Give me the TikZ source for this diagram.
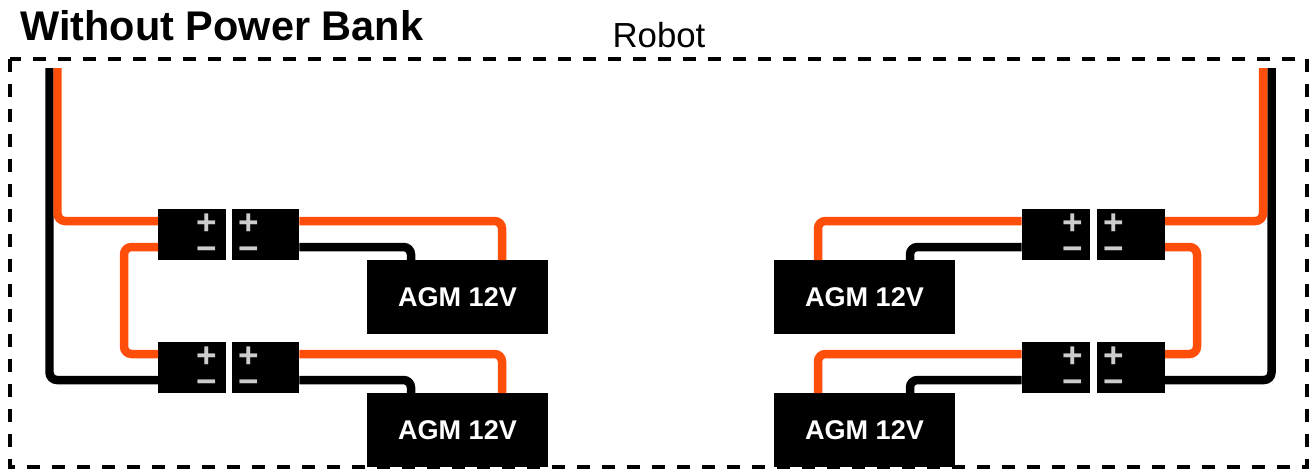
\documentclass[tikz,border=0pt]{standalone}
\usepackage{fontspec}
\setmainfont{Liberation Sans}

\definecolor{wireorange}{HTML}{FF4D0A}
\definecolor{signgray}{HTML}{CCCCCC}

\tikzset{
    wire/.style = {line width = .17cm, rounded corners = .15cm},
    poswire/.style = {wire, draw = wireorange},
    negwire/.style = {wire, draw = black},
    conn/.style = {fill = black, inner sep = 0pt, outer sep = 0pt,
        minimum width = 1.36cm, minimum height = 1.02cm},
    battery/.style = {fill = black, text = white, inner sep = 0pt, outer sep = 0pt,
        minimum width = 3.62cm, minimum height = 1.48cm,
        font = \fontsize{15.4pt}{17pt}\selectfont\bfseries},
    sign/.style = {text = signgray, inner sep = 0pt, outer sep = 0pt,
        text height = 15pt, text depth = 0pt,
        font = \fontsize{20pt}{22pt}\selectfont\bfseries}
}

\begin{document}
\begin{tikzpicture}[x = .02cm, y = -.02cm]

    \useasboundingbox (0,0) rectangle (1312,470);

    \node[anchor = base west, inner sep = 0pt,
    font = \fontsize{23.6pt}{26pt}\selectfont\bfseries] (title) at (20,40) {Without Power Bank};
    \node[inner sep = 0pt, font = \fontsize{19.8pt}{22pt}\selectfont] (robotlabel) at (659,35) {Robot};

    \draw[line width = .07cm, dash pattern = on .26cm off .24cm] (10,59) rectangle (1307,467);

    % wire ends inside the robot and on the batteries
    \coordinate (leftneg) at (49.5,68);
    \coordinate (leftpos) at (57.5,68);
    \coordinate (rightpos) at (1263,68);
    \coordinate (rightneg) at (1271.5,68);

    \coordinate (bat1pos) at (502,260);
    \coordinate (bat1neg) at (411,260);
    \coordinate (bat2pos) at (502,393);
    \coordinate (bat2neg) at (411,393);
    \coordinate (bat3pos) at (818,260);
    \coordinate (bat3neg) at (910,260);
    \coordinate (bat4pos) at (818,393);
    \coordinate (bat4neg) at (910,393);

    % connectors
    \node[conn] (c1a) at (192,234.5) {};
    \node[conn] (c1b) at (265.5,234.5) {};
    \node[conn] (c2a) at (192,367.5) {};
    \node[conn] (c2b) at (265.5,367.5) {};
    \node[conn] (c3a) at (1055.5,234.5) {};
    \node[conn] (c3b) at (1131,234.5) {};
    \node[conn] (c4a) at (1055.5,367.5) {};
    \node[conn] (c4b) at (1131,367.5) {};

    \node[sign] (p1a) at (207,221) {+};
    \node[sign] (m1a) at (207,247) {−};
    \node[sign] (p1b) at (249,221) {+};
    \node[sign] (m1b) at (249,247) {−};

    \node[sign] (p2a) at (207,354) {+};
    \node[sign] (m2a) at (207,380) {−};
    \node[sign] (p2b) at (249,354) {+};
    \node[sign] (m2b) at (249,380) {−};

    \node[sign] (p3a) at (1072.5,221) {+};
    \node[sign] (m3a) at (1072.5,247) {−};
    \node[sign] (p3b) at (1114,221) {+};
    \node[sign] (m3b) at (1114,247) {−};

    \node[sign] (p4a) at (1072.5,354) {+};
    \node[sign] (m4a) at (1072.5,380) {−};
    \node[sign] (p4b) at (1114,354) {+};
    \node[sign] (m4b) at (1114,380) {−};

    % batteries
    \node[battery] (bat1) at (457.5,297) {AGM 12V};
    \node[battery] (bat2) at (457.5,430) {AGM 12V};
    \node[battery] (bat3) at (864.5,297) {AGM 12V};
    \node[battery] (bat4) at (864.5,430) {AGM 12V};

    % wires
    \draw[negwire] (leftneg) |- (m2a -| c2a.west);
    \draw[poswire] (leftpos) |- (p1a -| c1a.west);
    \draw[poswire] (m1a -| c1a.west) -- ++(-34,0) |- (p2a -| c2a.west);

    \draw[poswire] (p1b -| c1b.east) -| (bat1pos);
    \draw[negwire] (m1b -| c1b.east) -| (bat1neg);
    \draw[poswire] (p2b -| c2b.east) -| (bat2pos);
    \draw[negwire] (m2b -| c2b.east) -| (bat2neg);

    \draw[poswire] (p3a -| c3a.west) -| (bat3pos);
    \draw[negwire] (m3a -| c3a.west) -| (bat3neg);
    \draw[poswire] (p4a -| c4a.west) -| (bat4pos);
    \draw[negwire] (m4a -| c4a.west) -| (bat4neg);

    \draw[negwire] (rightneg) |- (m4b -| c4b.east);
    \draw[poswire] (rightpos) |- (p3b -| c3b.east);
    \draw[poswire] (m3b -| c3b.east) -- ++(32,0) |- (p4b -| c4b.east);

\end{tikzpicture}
\end{document}
